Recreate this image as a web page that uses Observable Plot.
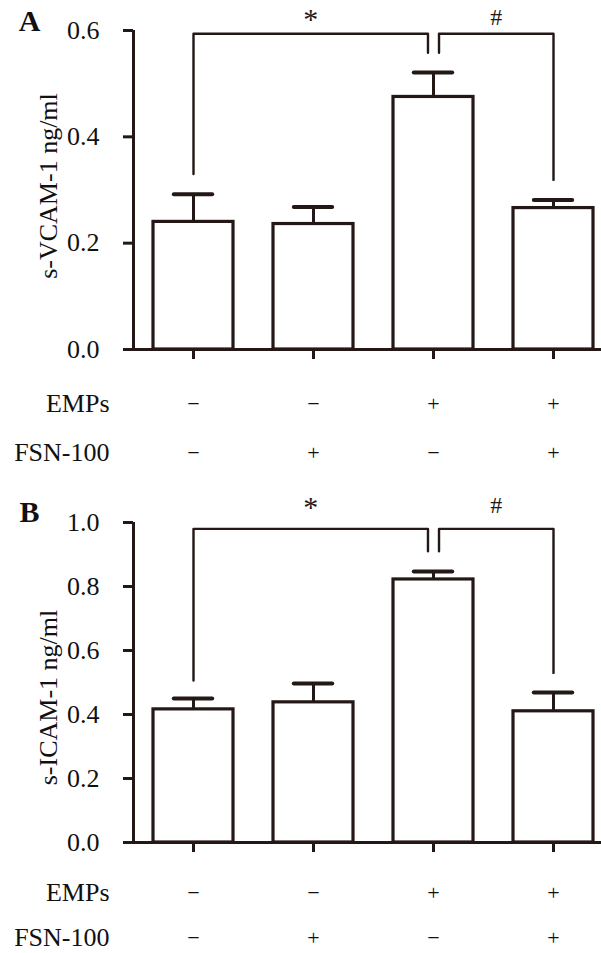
<!DOCTYPE html>
<html><head><meta charset="utf-8">
<script src="https://cdn.jsdelivr.net/npm/d3@7"></script>
<script src="https://cdn.jsdelivr.net/npm/@observablehq/plot@0.6"></script>
<style>
html,body{margin:0;padding:0;background:#fff;}
#chart{width:601px;}
#chart svg{display:block;}
</style></head><body><div id="chart"></div>
<script>
// ---- data ----
const groups = ["Control", "FSN-100", "EMPs", "EMPs+FSN-100"];
const empsSigns = ["\u2212", "\u2212", "+", "+"];
const fsnSigns = ["\u2212", "+", "\u2212", "+"];
const rowLabels = ["EMPs", "FSN-100"];

const vcamMean = [0.240, 0.236, 0.475, 0.266];
const vcamErr  = [0.052, 0.032, 0.046, 0.015];
const vcamTicks = [0, 0.2, 0.4, 0.6];

const icamMean = [0.416, 0.438, 0.822, 0.410];
const icamErr  = [0.034, 0.059, 0.025, 0.059];
const icamTicks = [0, 0.2, 0.4, 0.6, 0.8, 1.0];

// brackets: from group, to group, bracket level, left end, right end, symbol, symbol level
const vcamBrackets = [[0, 2, 0.594, 0.330, 0.558, "*", 0.621], [2, 3, 0.594, 0.558, 0.319, "#", 0.625]];
const icamBrackets = [[0, 2, 0.980, 0.506, 0.910, "*", 1.047], [2, 3, 0.980, 0.910, 0.530, "#", 1.053]];

const INK = "#231815";
const TXT = "#111";

function panel(o) {
  const data = groups.map((g, i) => ({i, g, m: o.mean[i], e: o.err[i]}));
  const hub = 2, gap = 0.046;
  const pts = [];
  o.brackets.forEach(([a, b, top, da, db], k) => {
    const xa = a === hub ? a + gap : a;
    const xb = b === hub ? b - gap : b;
    pts.push({k, x: xa, y: da}, {k, x: xa, y: top}, {k, x: xb, y: top}, {k, x: xb, y: db});
  });
  const syms = o.brackets.map(([a, b, top, da, db, s, sy]) => ({x: (a + b) / 2 + (s === "#" ? gap / 2 : -gap / 2), y: sy, s}));
  return Plot.plot({
    width: 601,
    height: o.height,
    marginTop: o.marginTop,
    marginBottom: o.marginBottom,
    marginLeft: 133,
    marginRight: 0,
    style: {fontFamily: "'Liberation Serif', 'Times New Roman', serif", fontSize: "26px", color: INK, background: "white"},
    x: {type: "linear", domain: [-0.5, 3.4], label: null},
    y: {domain: [0, o.yMax], label: null},
    marks: [
      Plot.rectY(data, {x1: d => d.i - 1/3, x2: d => d.i + 1/3, y1: 0, y2: "m", fill: "white", stroke: INK, strokeWidth: 3.2}),
      Plot.ruleX(data, {x: "i", y1: "m", y2: d => d.m + d.e, stroke: INK, strokeWidth: 3}),
      Plot.ruleY(data, {y: d => d.m + d.e, x1: d => d.i - 0.16, x2: d => d.i + 0.16, stroke: INK, strokeWidth: 4, strokeLinecap: "round"}),
      Plot.line(pts, {x: "x", y: "y", z: "k", stroke: INK, strokeWidth: 2.4, curve: "linear"}),
      Plot.text(syms, {x: "x", y: "y", text: "s", fontSize: d => d.s === "*" ? 30 : 24, fontWeight: d => d.s === "*" ? "bold" : "normal", fill: INK}),
      Plot.ruleX([-0.5], {y1: 0, y2: o.yMax, stroke: INK, strokeWidth: 3}),
      Plot.ruleY([0], {stroke: INK, strokeWidth: 3}),
      Plot.axisY({ticks: o.ticks, tickFormat: ".1f", tickSize: 10, tickPadding: 24, strokeWidth: 3, stroke: INK, fill: TXT, label: null}),
      Plot.axisX({ticks: [0, 1, 2, 3], tickFormat: () => "", tickSize: 10, strokeWidth: 3, stroke: INK, label: null}),
      Plot.text(data, {x: "i", y: 0, text: d => empsSigns[d.i], dy: o.rowDy[0], fontSize: 22, fill: TXT}),
      Plot.text(data, {x: "i", y: 0, text: d => fsnSigns[d.i], dy: o.rowDy[1], fontSize: 22, fill: TXT}),
      Plot.text([rowLabels[0]], {frameAnchor: "bottom-left", dx: -24, dy: o.rowDy[0], textAnchor: "end", lineAnchor: "middle", fill: TXT}),
      Plot.text([rowLabels[1]], {frameAnchor: "bottom-left", dx: -24, dy: o.rowDy[1], textAnchor: "end", lineAnchor: "middle", fill: TXT}),
      Plot.text([o.label], {frameAnchor: "left", dx: -85, dy: o.labelDy, rotate: -90, textAnchor: "middle", lineAnchor: "middle", fill: TXT}),
      Plot.text([o.letter], {frameAnchor: "top-left", dx: -104, dy: o.letterDy, textAnchor: "middle", lineAnchor: "middle", fontSize: 30, fontWeight: "bold", fill: TXT})
    ]
  });
}

const chart = document.getElementById("chart");
chart.append(panel({mean: vcamMean, err: vcamErr, ticks: vcamTicks, yMax: 0.6, label: "s-VCAM-1 ng/ml", letter: "A",
  brackets: vcamBrackets, height: 480, marginTop: 30, marginBottom: 131, rowDy: [54, 103], labelDy: -4, letterDy: -9}));
chart.append(panel({mean: icamMean, err: icamErr, ticks: icamTicks, yMax: 1.0, label: "s-ICAM-1 ng/ml", letter: "B",
  brackets: icamBrackets, height: 473, marginTop: 42, marginBottom: 111, rowDy: [50, 95], labelDy: 15, letterDy: -10}));
</script>
</body></html>
